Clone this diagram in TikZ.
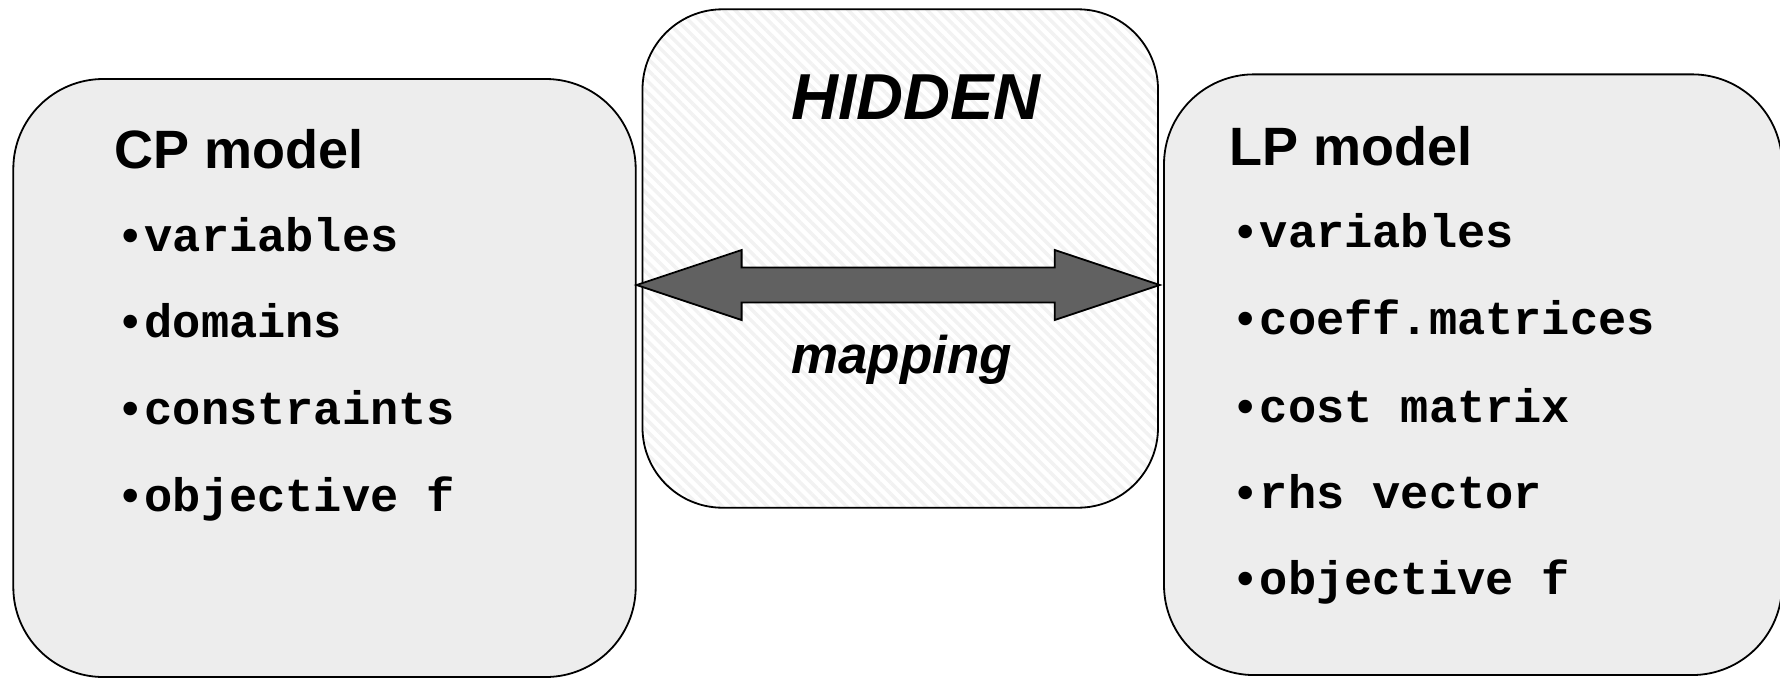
\documentclass[tikz,border=0pt]{standalone}
\usepackage{fontspec}
\setmainfont{Liberation Sans}
\setmonofont{Liberation Mono}
\usetikzlibrary{patterns.meta,calc}

\tikzset{
	modelbox/.style={draw, line width=1.8pt, fill=black!7, rounded corners=90pt, inner sep=0pt},
	hiddenbox/.style={draw, line width=1.8pt, rounded corners=80pt, inner sep=0pt,
		pattern={Lines[angle=-45, distance=8pt, line width=3.5pt]}, pattern color=black!5},
	title/.style={anchor=base west, inner sep=0pt, font=\fontsize{54}{54}\selectfont\bfseries},
	item/.style={anchor=base west, inner sep=0pt, font=\fontsize{47}{47}\selectfont\ttfamily\bfseries},
	hidtext/.style={anchor=base west, inner sep=0pt, font=\bfseries\itshape},
	maparrow/.style={draw, line width=1.8pt, fill=black!62, line join=miter}
}
\newcommand{\bul}{\makebox[22pt][l]{\rmfamily\textbullet}}

\begin{document}
\begin{tikzpicture}[x=1pt, y=-1pt]
	\useasboundingbox (0, 0) rectangle (1780, 678);

	\node[modelbox, minimum width=622.4pt, minimum height=598pt] (cp) at (324.5, 378) {};
	\node[hiddenbox, minimum width=515.5pt, minimum height=498.4pt] (hid) at (900.25, 258.5) {};
	\node[modelbox, minimum width=618pt, minimum height=600.7pt] (lp) at (1473, 374.7) {};

	\node[title] (cptitle) at (114, 168.3) {CP model};
	\node[item] (cpvar) at (122.5, 251) {\bul variables};
	\node[item] (cpdom) at (122.5, 337.7) {\bul domains};
	\node[item] (cpcon) at (122.5, 424.3) {\bul constraints};
	\node[item] (cpobj) at (122.5, 511) {\bul objective f};

	\node[title] (lptitle) at (1229, 165) {LP model};
	\node[item] (lpvar) at (1237.6, 247.7) {\bul variables};
	\node[item] (lpcoef) at (1237.6, 334.3) {\bul coeff.matrices};
	\node[item] (lpcost) at (1237.6, 422.7) {\bul cost matrix};
	\node[item] (lprhs) at (1237.6, 508) {\bul rhs vector};
	\node[item] (lpobj) at (1237.6, 594) {\bul objective f};

	\node[hidtext, font=\fontsize{65}{65}\selectfont\bfseries\itshape] (hidtitle) at (791, 119) {HIDDEN};
	\node[hidtext, font=\fontsize{53}{53}\selectfont\bfseries\itshape] (maplabel) at (791, 373) {mapping};

	\coordinate (ltip) at (cp.east |- 0, 285);
	\coordinate (rtip) at (hid.east |- 0, 285);
	\draw[maparrow] (ltip) -- ++(105, -35) -- ++(0, 17.5) -- ($(rtip) + (-105, -17.5)$) -- ++(0, -17.5)
		-- (rtip) -- ++(-105, 35) -- ++(0, -17.5) -- ($(ltip) + (105, 17.5)$) -- ++(0, 17.5) -- cycle;

\end{tikzpicture}
\end{document}
